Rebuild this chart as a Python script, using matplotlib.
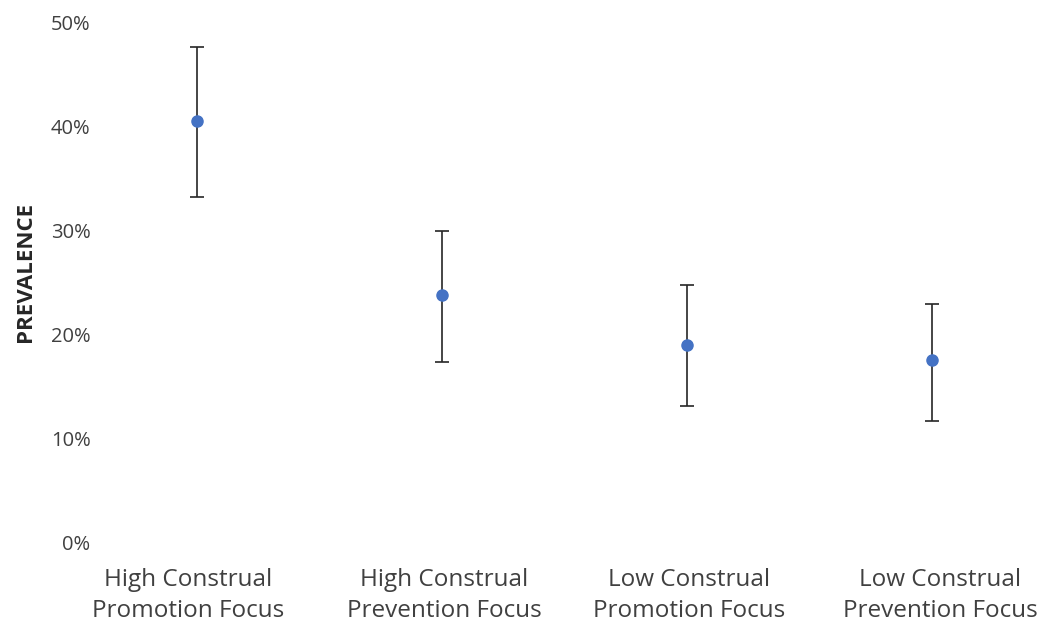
import matplotlib
matplotlib.use("Agg")
import matplotlib.pyplot as plt
import matplotlib.transforms as mtransforms
from matplotlib.ticker import PercentFormatter

categories = ["High Construal\nPromotion Focus", "High Construal\nPrevention Focus",
              "Low Construal\nPromotion Focus", "Low Construal\nPrevention Focus"]
prevalence = [0.405, 0.238, 0.190, 0.176]
ci_upper = [0.476, 0.299, 0.248, 0.229]
ci_lower = [0.332, 0.174, 0.131, 0.117]
yticks = [0.0, 0.1, 0.2, 0.3, 0.4, 0.5]

plt.rcParams['font.family'] = ['Open Sans', 'DejaVu Sans']

W, H = 1047, 634
fig = plt.figure(figsize=(W / 100, H / 100), dpi=100)
ax = fig.add_axes([103 / W, 1 - 543 / H, (W - 103) / W, (543 - 22) / H])

x = list(range(len(categories)))
yerr = [[p - l for p, l in zip(prevalence, ci_lower)],
        [u - p for p, u in zip(prevalence, ci_upper)]]
ax.errorbar(x, prevalence, yerr=yerr, fmt='o', color='#4472C4', markersize=8,
            ecolor='#262626', elinewidth=1.2, capsize=5, capthick=1.2, zorder=3)

ax.set_xlim(-94 / 245, (W - 197) / 245)
ax.set_ylim(0, 0.5)
ax.set_yticks(yticks)
ax.yaxis.set_major_formatter(PercentFormatter(1.0, decimals=0))
ax.set_xticks(x)
ax.set_xticklabels(categories, fontsize=17.5, color='#404040', linespacing=1.38)
for lbl in ax.get_yticklabels():
    lbl.set_fontsize(14.5)
    lbl.set_color('#404040')
ax.tick_params(axis='both', length=0)
ax.tick_params(axis='y', pad=9)
ax.tick_params(axis='x', pad=18)
for s in ax.spines.values():
    s.set_visible(False)

# small horizontal nudges of the category labels, as in the original
label_shift_px = [-9, 2, 2, 8]
for lbl, dx in zip(ax.get_xticklabels(), label_shift_px):
    lbl.set_transform(lbl.get_transform() +
                      mtransforms.ScaledTranslation(dx / 100, 0, fig.dpi_scale_trans))

fig.text(25.5 / W, 1 - 272 / H, "PREVALENCE", rotation=90, ha='center', va='center',
         fontsize=16, fontweight='bold', color='#262626')

fig.savefig("out.png", dpi=100)
